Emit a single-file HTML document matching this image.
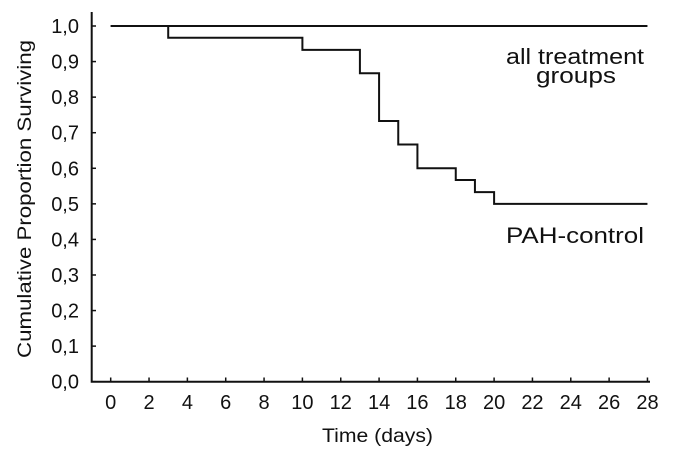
<!DOCTYPE html>
<html><head><meta charset="utf-8"><style>
body{margin:0;background:#fff}
svg{display:block;font-family:"Liberation Sans",Arial,sans-serif}
</style></head><body>
<svg id="c" width="673" height="464"></svg>
<script>
const dayTicks=[0,2,4,6,8,10,12,14,16,18,20,22,24,26,28];
const yTicks=[0,0.1,0.2,0.3,0.4,0.5,0.6,0.7,0.8,0.9,1.0];
const pahTimes=[0,3,10,13,14,15,16,18,19,20,28];
const pahValues=[1,0.967,0.933,0.867,0.733,0.667,0.6,0.567,0.533,0.5];
const treatTimes=[0,28];
const treatValues=[1];
const svg=document.getElementById('c');
const NS='http://www.w3.org/2000/svg';
const x=d=>110.7+d*19.17;
const y=v=>381.7-v*355.7;
function mk(t,a,txt){const e=document.createElementNS(NS,t);for(const k in a)e.setAttribute(k,a[k]);if(txt!==undefined)e.textContent=txt;svg.appendChild(e);return e;}
let ax=mk('path',{d:'M91.7 12 V381.7 H650',fill:'none',stroke:'#111','stroke-width':2});


dayTicks.forEach(d=>{
 let t=mk('line',{x1:x(d),x2:x(d),y1:381.7,y2:377.5,stroke:'#111','stroke-width':1.5});
 
 
 let l=mk('text',{x:x(d),y:409,'text-anchor':'middle','font-size':20,fill:'#111'},String(d));
 
 
});
yTicks.forEach(v=>{
 let t=mk('line',{x1:91.7,x2:96,y1:y(v),y2:y(v),stroke:'#111','stroke-width':1.5});
 
 
 let l=mk('text',{x:79,y:y(v)+7,'text-anchor':'end','font-size':20,fill:'#111'},v.toFixed(1).replace('.',','));
 
 
});
function step(times,vals){let d='M'+x(times[0])+' '+y(vals[0]);for(let i=1;i<times.length;i++){d+=' H'+x(times[i]);if(i<vals.length)d+=' V'+y(vals[i]);}return d;}
let s1=mk('path',{d:step(treatTimes,treatValues),fill:'none',stroke:'#111','stroke-width':2});


let s2=mk('path',{d:step(pahTimes,pahValues),fill:'none',stroke:'#111','stroke-width':2});


let a=mk('text',{x:506,y:64,'font-size':22,fill:'#111',textLength:138,lengthAdjust:'spacingAndGlyphs'},'all treatment');


let g=mk('text',{x:536,y:83,'font-size':22,fill:'#111',textLength:80,lengthAdjust:'spacingAndGlyphs'},'groups');


let p=mk('text',{x:506,y:243,'font-size':22,fill:'#111',textLength:138,lengthAdjust:'spacingAndGlyphs'},'PAH-control');


let xt=mk('text',{x:322,y:442,'font-size':19,fill:'#111',textLength:111,lengthAdjust:'spacingAndGlyphs'},'Time (days)');


let yt=mk('text',{x:0,y:0,'text-anchor':'middle','font-size':19,fill:'#111',textLength:318,lengthAdjust:'spacingAndGlyphs',transform:'translate(31,199) rotate(-90)'},'Cumulative Proportion Surviving');


</script>
</body></html>
